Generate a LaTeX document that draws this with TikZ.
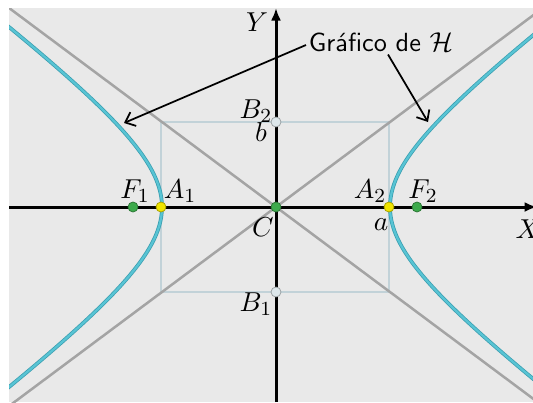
\documentclass[tikz,border=0pt]{standalone}
\usepackage{fontspec}
\usetikzlibrary{arrows.meta}
\definecolor{bgc}{HTML}{E9E9E9}
\definecolor{asymc}{HTML}{A4A4A4}
\definecolor{rectc}{HTML}{C2D2D8}
\definecolor{hypin}{HTML}{58C4D4}
\definecolor{hypout}{HTML}{3A9EB0}
\definecolor{greenc}{HTML}{3DAA4C}
\definecolor{yellowc}{HTML}{F0E400}
\definecolor{bpc}{HTML}{DDE7EB}
\begin{document}
\begin{tikzpicture}[x=0.4pt,y=-0.4pt,
  font=\fontsize{11}{13}\selectfont,
  axisline/.style={line width=1.2pt,black},
  asymline/.style={line width=1pt,asymc},
  boxline/.style={line width=0.6pt,rectc},
  pt/.style={circle,inner sep=0pt,minimum size=4pt,line width=0.3pt},
  greenpt/.style={pt,fill=greenc,draw=greenc!70!black},
  yellowpt/.style={pt,fill=yellowc,draw=yellowc!70!black},
  bpt/.style={pt,fill=bpc,draw=bpc!70!black},
  lbl/.style={inner sep=0pt},
  pointer/.style={line width=0.7pt,-{Straight Barb[length=3.5pt,width=6pt]}}]
\useasboundingbox (0,0) rectangle (533,402);
\fill[bgc] (9,8) rectangle (533,402);
\begin{scope}
\clip (9,8) rectangle (533,402);
\draw[boxline] (161,122) rectangle (389,292);
\draw[asymline] (-66,-48) -- (618,462);
\draw[asymline] (-66,462) -- (618,-48);
\foreach \s in {1,-1}{
  \draw[hypout,line width=1.5pt] plot[domain=-1.65:1.65,samples=90,variable=\t] ({276+\s*114*cosh(\t)},{207-85*sinh(\t)});
  \draw[hypin,line width=0.9pt] plot[domain=-1.65:1.65,samples=90,variable=\t] ({276+\s*114*cosh(\t)},{207-85*sinh(\t)});
}
\end{scope}
\draw[axisline,-{Latex[length=5pt,width=4pt]}] (9,207) -- (537,207);
\draw[axisline,-{Latex[length=5pt,width=4pt]}] (276,402) -- (276,8);
\node[greenpt] (F1) at (133,207) {};
\node[greenpt] (F2) at (417,207) {};
\node[greenpt] (C) at (276,207) {};
\node[yellowpt] (A1) at (161,207) {};
\node[yellowpt] (A2) at (389,207) {};
\node[bpt] (B2) at (276,122) {};
\node[bpt] (B1) at (276,292) {};
\node[lbl] (lF1) at (135,191) {$F_1$};
\node[lbl] (lA1) at (180,191) {$A_1$};
\node[lbl] (lA2) at (370,191) {$A_2$};
\node[lbl] (lF2) at (423,191) {$F_2$};
\node[lbl] (la) at (381,225) {$a$};
\node[lbl] (lC) at (263,227) {$C$};
\node[lbl] (lB2) at (256,111) {$B_2$};
\node[lbl] (lb) at (261,132) {$b$};
\node[lbl] (lB1) at (256,304) {$B_1$};
\node[lbl] (lY) at (257,22) {$Y$};
\node[lbl] (lX) at (528,229) {$X$};
\node[lbl,font=\fontsize{10.5}{12}\selectfont\sffamily] (graf) at (381,42) {Gráfico de $\mathcal{H}$};
\coordinate (tipL) at (124,123);
\coordinate (tipR) at (428,122);
\draw[pointer] ([xshift=-1pt,yshift=-1.2pt]graf.west) -- (tipL);
\draw[pointer] ([xshift=2.8pt,yshift=-1pt]graf.south) -- (tipR);
\end{tikzpicture}
\end{document}
